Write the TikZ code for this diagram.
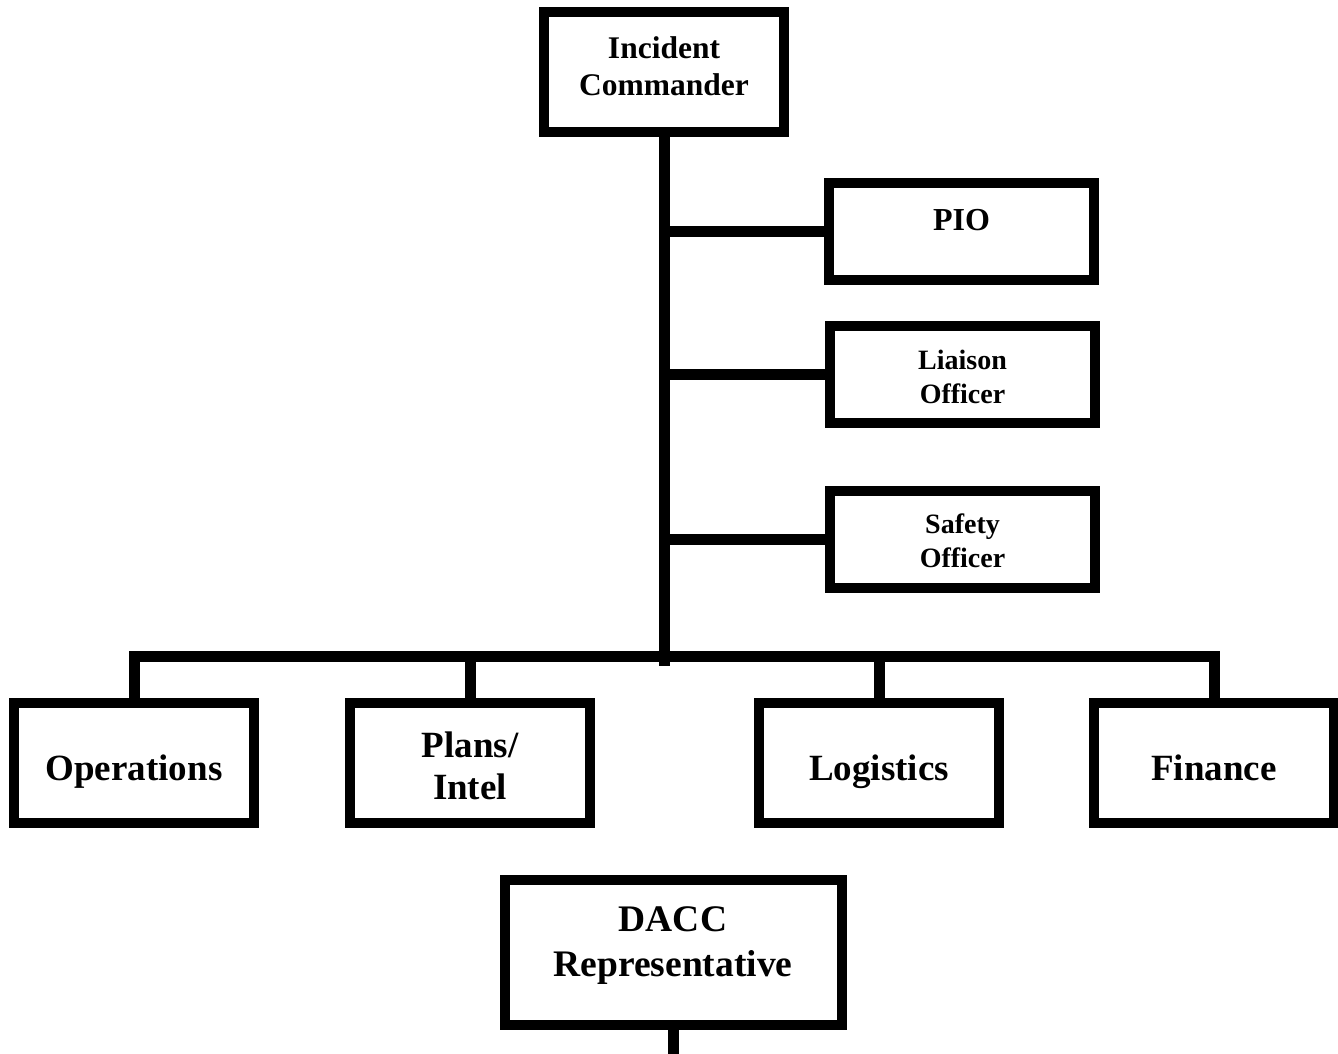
\documentclass[tikz,border=0pt]{standalone}
\usepackage{fontspec}
\setmainfont{Liberation Serif}
\usetikzlibrary{calc,positioning}
\tikzset{
    icsbox/.style={rectangle, draw=black, line width=10pt, inner sep=0pt},
    sectbox/.style={icsbox, minimum width=240pt, minimum height=120pt},
    staffbox/.style={icsbox, minimum width=265pt, minimum height=97pt},
    icsline/.style={line width=11pt},
    icstext/.style={align=center, inner sep=0pt}
}

\begin{document}
\begin{tikzpicture}[x=1pt, y=-1pt]
    \useasboundingbox (0,0) rectangle (1338,1053);
    % command and staff
    \node[sectbox] (ic) at (664,72) {};
    \node[icstext, font=\fontsize{31.5}{37}\selectfont\bfseries] (ic text) at ([yshift=5.5pt]ic.center) {Incident\\Commander};
    \node[staffbox] (pio) at (961.5,231.5) {};
    \node[icstext, font=\fontsize{32}{37}\selectfont\bfseries] (pio text) at ([yshift=11pt]pio.center) {PIO};
    \node[staffbox] (liaison) at (962.5,374.5) {};
    \node[icstext, font=\fontsize{28}{34}\selectfont\bfseries] (liaison text) at ([yshift=-2.5pt]liaison.center) {Liaison\\Officer};
    \node[staffbox] (safety) at (962.5,539.5) {};
    \node[icstext, font=\fontsize{28}{34}\selectfont\bfseries] (safety text) at ([yshift=-1.5pt]safety.center) {Safety\\Officer};
    % sections
    \node[sectbox] (ops) at (134,763) {};
    \node[icstext, font=\fontsize{37}{42}\selectfont\bfseries] (ops text) at ([yshift=-9pt]ops.center) {Operations};
    \node[sectbox] (plans) at (470,763) {};
    \node[icstext, font=\fontsize{37}{42}\selectfont\bfseries] (plans text) at ([yshift=-3pt]plans.center) {Plans/\\Intel};
    \node[sectbox] (log) at (879,763) {};
    \node[icstext, font=\fontsize{37}{42}\selectfont\bfseries] (log text) at ([yshift=-9pt]log.center) {Logistics};
    \node[sectbox] (fin) at (1214,763) {};
    \node[icstext, font=\fontsize{37}{42}\selectfont\bfseries] (fin text) at ([yshift=-5pt]fin.center) {Finance};
    % dacc
    \node[icsbox, minimum width=337pt, minimum height=145pt] (dacc) at (673,952.5) {};
    \node[icstext, font=\fontsize{37.5}{45}\selectfont\bfseries] (dacc text) at ([yshift=7pt]dacc.center) {DACC\\Representative};

    \coordinate (bus) at (664,656);
    \coordinate (tail) at (673,1060);

    \draw[icsline] (ic.south) -- ($(bus)+(0,10)$);
    \draw[icsline] (pio.west) -- (pio.west -| ic.south);
    \draw[icsline] (liaison.west) -- (liaison.west -| ic.south);
    \draw[icsline] (safety.west) -- (safety.west -| ic.south);
    \draw[icsline] (ops.north) |- (bus) -| (fin.north);
    \draw[icsline] (plans.north) -- (plans.north |- bus);
    \draw[icsline] (log.north) -- (log.north |- bus);
    \draw[icsline] (dacc.south) -- (tail);
\end{tikzpicture}
\end{document}
